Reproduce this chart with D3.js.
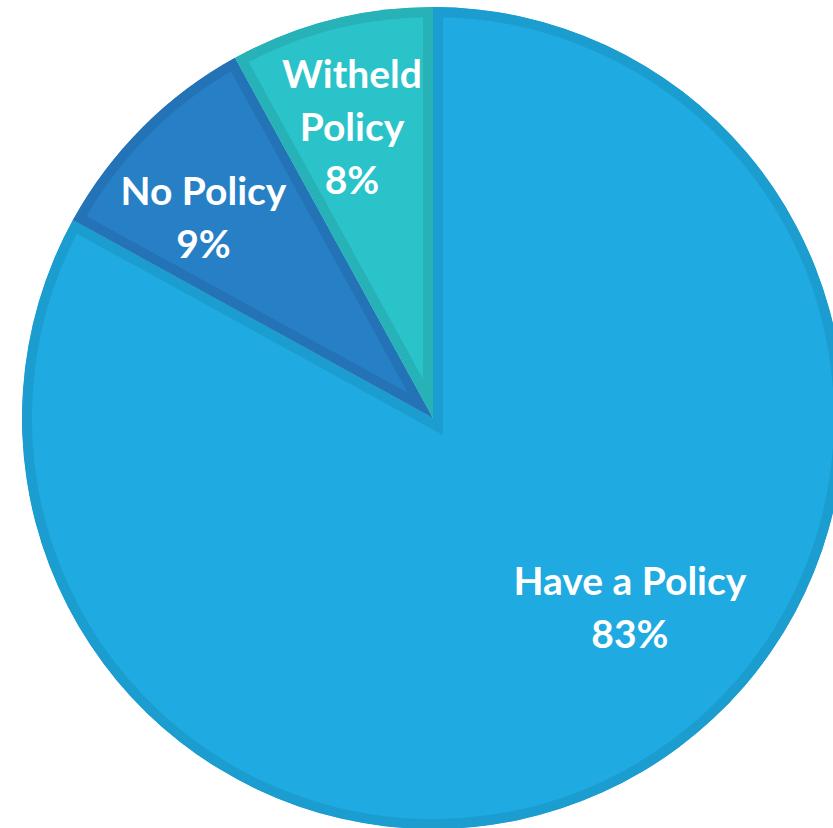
<!DOCTYPE html>
<html>
<head>
<meta charset="utf-8">
<script src="https://cdn.jsdelivr.net/npm/d3@7"></script>
<style>
  html, body { margin: 0; padding: 0; background: #fff; }
  svg { display: block; }
</style>
</head>
<body>
<svg id="chart" width="833" height="828"></svg>
<script>
// data
var categories = ["Have a Policy", "No Policy", "Witheld Policy"];
var shares = [83, 9, 8];
var labelLines = [["Have a Policy"], ["No Policy"], ["Witheld", "Policy"]];
var fillColors = ["#1faae1", "#2780c6", "#2ac3ca"];
var edgeColors = ["#1b9dd0", "#2473b7", "#27b2b8"];

var svg = d3.select("#chart"),
  width = +svg.attr("width"),
  height = +svg.attr("height");

var cx = 433, cy = 418, radius = 411;
var border = 10; // inner border thickness, excel style

// where each label block sits (angle in deg from 12 o'clock, fraction of radius)
var labelAt = [{ a: 134, f: 0.666 }, { a: 311, f: 0.74 }, { a: 344.4, f: 0.733 }];

var slices = categories.map(function(c, i) {
  return { name: c, value: shares[i], idx: i };
});

var pie = d3.pie()
  .sort(null)
  .value(function(d) { return d.value; });

var arc = d3.arc()
  .innerRadius(0)
  .outerRadius(radius);

var arcs = pie(slices);

var g = svg.append("g")
  .attr("transform", "translate(" + cx + "," + cy + ")");

var defs = svg.append("defs");
defs.selectAll("clipPath")
  .data(arcs)
  .enter().append("clipPath")
  .attr("id", function(d) { return "clip" + d.data.idx; })
  .append("path")
  .attr("d", arc);

// slices, stroke doubled and clipped so it only shows inside
g.selectAll("path.slice")
  .data(arcs)
  .enter().append("path")
  .attr("class", "slice")
  .attr("d", arc)
  .attr("fill", function(d) { return fillColors[d.data.idx]; })
  .attr("stroke", function(d) { return edgeColors[d.data.idx]; })
  .attr("stroke-width", border * 2)
  .attr("stroke-linejoin", "miter")
  .attr("clip-path", function(d) { return "url(#clip" + d.data.idx + ")"; });

// labels
var fontSize = 39, lineH = 53, capHalf = 13;
var labels = g.selectAll("text.lbl")
  .data(arcs)
  .enter().append("text")
  .attr("class", "lbl")
  .attr("text-anchor", "middle")
  .attr("fill", "#ffffff")
  .style("font-family", "Lato, 'Open Sans', sans-serif")
  .style("font-weight", 700)
  .style("font-size", fontSize + "px");

labels.each(function(d) {
  var i = d.data.idx;
  var ang = labelAt[i].a * Math.PI / 180;
  var r = labelAt[i].f * radius;
  var x = Math.sin(ang) * r, y = -Math.cos(ang) * r;
  var lines = labelLines[i].concat([d.data.value + "%"]);
  var n = lines.length;
  var t = d3.select(this);
  lines.forEach(function(s, k) {
    t.append("tspan")
      .attr("x", x)
      .attr("y", y + (k - (n - 1) / 2) * lineH + capHalf)
      .text(s);
  });
});
</script>
</body>
</html>
